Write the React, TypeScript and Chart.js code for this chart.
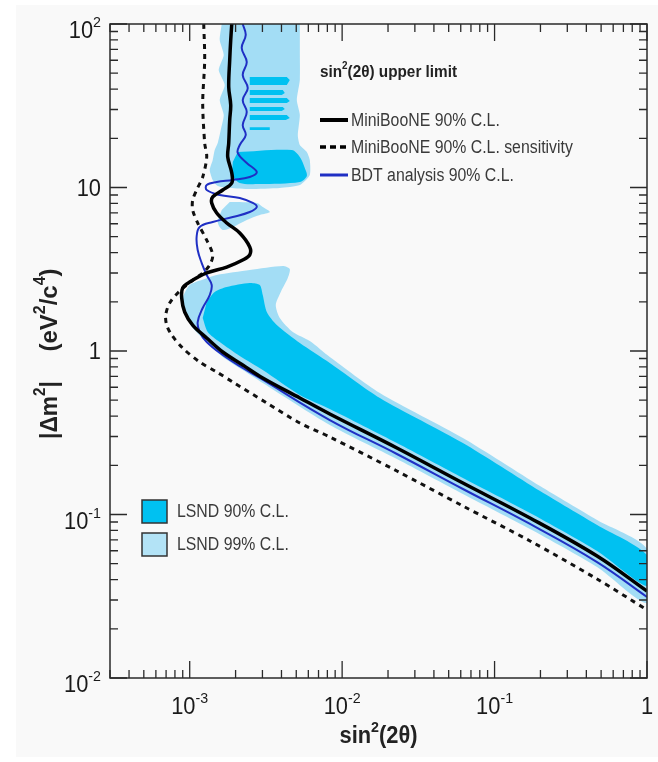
import React, { useEffect, useRef } from 'react';
import { Chart, registerables } from 'chart.js';

Chart.register(...registerables);

type P = [number, number];

// ---- axes ----
const xRange: [number, number] = [3e-4, 1];
const yRange: [number, number] = [1e-2, 1e2];
const xTicks = [1e-3, 1e-2, 1e-1, 1];
const xTickLabels: [string, string][] = [['10', '-3'], ['10', '-2'], ['10', '-1'], ['1', '']];
const yTicks = [1e-2, 1e-1, 1, 10, 100];
const yTickLabels: [string, string][] = [['10', '-2'], ['10', '-1'], ['1', ''], ['10', ''], ['10', '2']];

// ---- curves: [sin^2(2theta), |dm^2|] ----
const miniBooNE: P[] = [
  [1.888e-3, 100], [1.858e-3, 79.8], [1.83e-3, 60.2], [1.803e-3, 41.2], [1.858e-3, 31.96], [1.83e-3, 25.9],
  [1.803e-3, 18.7], [1.776e-3, 15.37], [1.888e-3, 12.27], [1.888e-3, 10.65], [1.647e-3, 9.65], [1.416e-3, 8.75],
  [1.394e-3, 8.04], [1.504e-3, 6.98], [1.75e-3, 6.07], [2.13e-3, 5.27], [2.477e-3, 4.33], [2.477e-3, 3.87],
  [2.228e-3, 3.6], [1.75e-3, 3.26], [1.293e-3, 3.0], [1.0e-3, 2.64], [8.99e-4, 2.43], [8.86e-4, 2.11],
  [9.27e-4, 1.732], [1.046e-3, 1.442], [1.293e-3, 1.2], [1.647e-3, 0.986], [2.228e-3, 0.821], [3.015e-3, 0.684],
  [5.278e-3, 0.516], [8.3e-3, 0.4118], [0.02287, 0.2551], [0.062, 0.1558], [0.1708, 0.0952], [0.4704, 0.0557], [1, 0.034],
];

const miniBooNESensitivity: P[] = [
  [1.236e-3, 100], [1.254e-3, 60.2], [1.217e-3, 32.9], [1.254e-3, 18.7], [1.293e-3, 15.37], [1.217e-3, 11.59],
  [1.11e-3, 9.65], [1.046e-3, 8.38], [1.046e-3, 7.29], [1.128e-3, 6.07], [1.293e-3, 4.77], [1.416e-3, 3.87],
  [1.353e-3, 3.357], [1.217e-3, 3.0], [1.031e-3, 2.68], [8.6e-4, 2.328], [7.39e-4, 1.966], [6.96e-4, 1.661],
  [7.06e-4, 1.442], [7.62e-4, 1.253], [8.99e-4, 1.043], [1.163e-3, 0.856], [1.504e-3, 0.744], [1.916e-3, 0.646],
  [3.204e-3, 0.481], [5.278e-3, 0.3627], [8.3e-3, 0.2979], [0.02287, 0.1845], [0.062, 0.1127], [0.1708, 0.0689],
  [0.4704, 0.0403], [1, 0.0261],
];

const bdt: P[] = [
  [2.228e-3, 100], [2.331e-3, 85.7], [2.194e-3, 71.3], [2.367e-3, 58.5], [2.228e-3, 48.7], [2.404e-3, 40.6],
  [2.228e-3, 34.3], [2.367e-3, 28.96], [2.228e-3, 24.1], [2.331e-3, 20.9], [2.13e-3, 18.2], [2.066e-3, 16.26],
  [2.367e-3, 14.13], [2.754e-3, 12.44], [2.477e-3, 11.59], [1.916e-3, 11.11], [1.504e-3, 10.8], [1.293e-3, 10.36],
  [1.293e-3, 9.65], [1.574e-3, 9.0], [2.13e-3, 8.63], [2.592e-3, 8.04], [2.754e-3, 7.6], [2.477e-3, 7.08],
  [1.916e-3, 6.6], [1.416e-3, 6.15], [1.163e-3, 5.73], [1.11e-3, 4.98], [1.128e-3, 4.15], [1.199e-3, 3.45],
  [1.293e-3, 2.916], [1.394e-3, 2.533], [1.353e-3, 2.2], [1.217e-3, 1.832], [1.128e-3, 1.504], [1.163e-3, 1.307],
  [1.293e-3, 1.135], [1.647e-3, 0.945], [2.228e-3, 0.787], [2.882e-3, 0.684], [8.3e-3, 0.3784], [0.02287, 0.2344],
  [0.062, 0.1432], [0.1708, 0.0875], [0.4704, 0.0512], [1, 0.0313],
];

// ---- LSND allowed regions (closed outlines) ----
const lsnd99High: P[] = [
  [1.622e-3, 100], [1.574e-3, 79.8], [1.672e-3, 64.6], [1.55e-3, 52.3], [1.697e-3, 42.4], [1.574e-3, 34.3],
  [1.672e-3, 27.8], [1.598e-3, 22.5], [1.527e-3, 18.7], [1.459e-3, 16.96], [1.416e-3, 14.73], [1.353e-3, 12.79],
  [1.416e-3, 11.11], [1.527e-3, 10.21], [1.83e-3, 9.93], [2.477e-3, 9.79], [3.899e-3, 9.93], [5.278e-3, 10.36],
  [6.137e-3, 11.93], [6.137e-3, 14.73], [5.865e-3, 16.49], [5.278e-3, 18.2], [5.12e-3, 20.9], [5.278e-3, 27.8],
  [5.043e-3, 34.3], [5.278e-3, 45.4], [5.278e-3, 69.3], [5.278e-3, 100],
];

const lsnd99Pocket: P[] = [
  [1.83e-3, 8.15], [2.754e-3, 8.04], [3.015e-3, 7.6], [3.352e-3, 7.08], [2.882e-3, 6.79], [2.367e-3, 6.33],
  [1.916e-3, 5.73], [1.647e-3, 5.5], [1.527e-3, 6.15], [1.622e-3, 7.29],
];

const lsnd99Low: P[] = [
  [9.13e-4, 1.911], [8.99e-4, 2.11], [1.0e-3, 2.533], [1.254e-3, 2.757], [1.504e-3, 2.916], [2.477e-3, 3.129],
  [4.08e-3, 3.311], [4.536e-3, 3.173], [4.401e-3, 2.796], [3.958e-3, 2.296], [3.67e-3, 1.911], [3.899e-3, 1.592],
  [4.747e-3, 1.307], [6.137e-3, 1.151], [8.3e-3, 0.919], [0.01768, 0.5535], [0.062, 0.2937], [0.1987, 0.1494],
  [0.4704, 0.0926], [1, 0.0615], [1, 0.0288], [0.4704, 0.0477], [0.1708, 0.0815], [0.062, 0.1335],
  [0.02287, 0.2185], [8.3e-3, 0.3527], [3.015e-3, 0.637], [2.228e-3, 0.765], [1.647e-3, 0.919], [1.293e-3, 1.135],
  [1.046e-3, 1.382], [9.41e-4, 1.661],
];

// horizontal 90% C.L. strips at high |dm^2|
const lsnd90Strips: P[] = [
  [2.477e-3, 47.4], [4.335e-3, 47.4], [4.536e-3, 45.4], [4.335e-3, 42.4], [2.477e-3, 42.4],
  [2.477e-3, 39.5], [4.08e-3, 39.5], [4.205e-3, 37.8], [4.018e-3, 36.8], [2.477e-3, 36.8],
  [2.477e-3, 35.3], [4.335e-3, 35.3], [4.536e-3, 33.8], [4.335e-3, 32.9], [2.477e-3, 32.9],
  [2.477e-3, 31.1], [4.08e-3, 31.1], [4.205e-3, 30.2], [4.018e-3, 29.4], [2.477e-3, 29.4],
  [2.477e-3, 27.8], [4.335e-3, 27.8], [4.536e-3, 26.6], [4.269e-3, 25.9], [2.477e-3, 25.9],
  [2.477e-3, 23.4], [3.352e-3, 23.4], [3.352e-3, 22.5], [2.477e-3, 22.5],
];

const lsnd90High: P[] = [
  [2.066e-3, 16.49], [4.675e-3, 16.96], [5.278e-3, 15.37], [5.69e-3, 13.16], [5.865e-3, 11.76], [5.278e-3, 10.8],
  [2.882e-3, 10.5], [2.13e-3, 10.65], [1.916e-3, 11.93], [1.916e-3, 14.32],
];

const lsnd90Low: P[] = [
  [1.293e-3, 1.994], [1.459e-3, 2.296], [1.75e-3, 2.462], [2.477e-3, 2.605], [2.882e-3, 2.533], [3.015e-3, 2.2],
  [3.204e-3, 1.732], [3.726e-3, 1.442], [5.278e-3, 1.119], [8.3e-3, 0.845], [0.01768, 0.516], [0.062, 0.2737],
  [0.1987, 0.1392], [0.4704, 0.0863], [1, 0.0565], [1, 0.0365], [0.4704, 0.0598], [0.1708, 0.1021],
  [0.062, 0.1672], [0.02287, 0.2737], [8.3e-3, 0.4418], [5.278e-3, 0.538], [3.015e-3, 0.765], [2.13e-3, 0.932],
  [1.574e-3, 1.135], [1.313e-3, 1.307], [1.217e-3, 1.592],
];

// ---- legend texts ----
const legendTitle = ['sin', '2', '(2θ) upper limit'];
const lineLegend = ['MiniBooNE 90% C.L.', 'MiniBooNE 90% C.L. sensitivity', 'BDT analysis 90% C.L.'];
const areaLegend = ['LSND 90% C.L.', 'LSND 99% C.L.'];

const DARK = '#00c1f1';
const LIGHT = '#a3ddf5';
const BLUE = '#1f2fc4';
const FONT = "'Liberation Sans', Arial, Helvetica, sans-serif";

type Part = { t: string; sup?: boolean };

function drawRich(
  ctx: CanvasRenderingContext2D, parts: Part[], x: number, y: number,
  size: number, supSize: number, rise: number, weight: string, align: string, sx: number, color: string
) {
  const widths = parts.map((p) => {
    ctx.font = `${weight} ${p.sup ? supSize : size}px ${FONT}`;
    return ctx.measureText(p.t).width * sx;
  });
  const total = widths.reduce((a, b) => a + b, 0);
  let cx = align === 'left' ? x : align === 'right' ? x - total : x - total / 2;
  ctx.fillStyle = color;
  ctx.textAlign = 'left';
  ctx.textBaseline = 'middle';
  parts.forEach((p, i) => {
    ctx.font = `${weight} ${p.sup ? supSize : size}px ${FONT}`;
    ctx.save();
    ctx.translate(cx, y - (p.sup ? rise : 0));
    ctx.scale(sx, 1);
    ctx.fillText(p.t, 0, 0);
    ctx.restore();
    cx += widths[i];
  });
}

const decorPlugin = {
  id: 'decor',
  beforeDraw(chart: any) {
    const ctx: CanvasRenderingContext2D = chart.ctx;
    ctx.save();
    ctx.fillStyle = '#ffffff';
    ctx.fillRect(0, 0, chart.width, chart.height);
    ctx.fillStyle = '#f9f9f9';
    ctx.fillRect(16, 5, chart.width - 16, chart.height - 10);
    ctx.restore();
  },
  afterDraw(chart: any) {
    const ctx: CanvasRenderingContext2D = chart.ctx;
    const xs = chart.scales.x;
    const ys = chart.scales.y;
    const { left, right, top, bottom } = chart.chartArea;
    ctx.save();
    ctx.strokeStyle = '#2a2a2a';
    ctx.lineWidth = 1.5;
    ctx.strokeRect(left, top, right - left, bottom - top);
    ctx.lineWidth = 1.3;
    ctx.beginPath();
    for (let d = -4; d <= 0; d++) {
      for (let k = 1; k <= 9; k++) {
        const v = k * Math.pow(10, d);
        if (v < xRange[0] * 0.999 || v > xRange[1] * 1.001) continue;
        const px = xs.getPixelForValue(v);
        const len = k === 1 ? 17 : 8;
        ctx.moveTo(px, bottom); ctx.lineTo(px, bottom - len);
        ctx.moveTo(px, top); ctx.lineTo(px, top + len);
      }
    }
    for (let d = -2; d <= 2; d++) {
      for (let k = 1; k <= 9; k++) {
        const v = k * Math.pow(10, d);
        if (v < yRange[0] * 0.999 || v > yRange[1] * 1.001) continue;
        const py = ys.getPixelForValue(v);
        const len = k === 1 ? 17 : 8;
        ctx.moveTo(left, py); ctx.lineTo(left + len, py);
        ctx.moveTo(right, py); ctx.lineTo(right - len, py);
      }
    }
    ctx.stroke();

    xTicks.forEach((v, i) => {
      const [b, s] = xTickLabels[i];
      const parts: Part[] = s ? [{ t: b }, { t: s, sup: true }] : [{ t: b }];
      drawRich(ctx, parts, xs.getPixelForValue(v), bottom + 30, 23, 15, 9, 'normal', 'center', 0.95, '#1a1a1a');
    });
    yTicks.forEach((v, i) => {
      const [b, s] = yTickLabels[i];
      const py = ys.getPixelForValue(v);
      if (s) {
        drawRich(ctx, [{ t: b }, { t: s, sup: true }], left - 9, py + 8, 23, 15, 9, 'normal', 'right', 0.95, '#1a1a1a');
      } else {
        drawRich(ctx, [{ t: b }], left - 9, py + 2, 23, 15, 9, 'normal', 'right', 0.95, '#1a1a1a');
      }
    });

    drawRich(ctx, [{ t: 'sin' }, { t: '2', sup: true }, { t: '(2θ)' }], (left + right) / 2, bottom + 59,
      23, 15, 9, 'bold', 'center', 0.95, '#222');
    ctx.save();
    ctx.translate(50, 410);
    ctx.rotate(-Math.PI / 2);
    drawRich(ctx, [{ t: '|Δm' }, { t: '2', sup: true }, { t: '|' }], 0, 0, 24, 16, 9, 'bold', 'center', 0.95, '#222');
    ctx.restore();
    ctx.save();
    ctx.translate(50, 310);
    ctx.rotate(-Math.PI / 2);
    drawRich(ctx, [{ t: '(eV' }, { t: '2', sup: true }, { t: '/c' }, { t: '4', sup: true }, { t: ')' }], 0, 0,
      24, 16, 9, 'bold', 'center', 1.0, '#222');
    ctx.restore();

    drawRich(ctx, [{ t: legendTitle[0] }, { t: legendTitle[1], sup: true }, { t: legendTitle[2] }], 320, 72,
      17, 11, 6, 'bold', 'left', 0.9, '#222');
    const ly = [120, 147, 175];
    ctx.lineCap = 'butt';
    ctx.strokeStyle = '#000';
    ctx.lineWidth = 4;
    ctx.beginPath(); ctx.moveTo(320, ly[0]); ctx.lineTo(348, ly[0]); ctx.stroke();
    ctx.lineWidth = 3.5;
    ctx.setLineDash([6, 4]);
    ctx.beginPath(); ctx.moveTo(320, ly[1]); ctx.lineTo(349, ly[1]); ctx.stroke();
    ctx.setLineDash([]);
    ctx.strokeStyle = BLUE;
    ctx.lineWidth = 3;
    ctx.beginPath(); ctx.moveTo(320, ly[2]); ctx.lineTo(348, ly[2]); ctx.stroke();
    lineLegend.forEach((t, i) => {
      drawRich(ctx, [{ t }], 351, ly[i] + 1, 18, 12, 6, 'normal', 'left', 0.88, '#3a3a3a');
    });

    const boxes = [{ y: 500, c: DARK }, { y: 533, c: '#b3e3f6' }];
    boxes.forEach((b, i) => {
      ctx.fillStyle = b.c;
      ctx.fillRect(142, b.y, 25, 23);
      ctx.strokeStyle = '#333';
      ctx.lineWidth = 1.5;
      ctx.strokeRect(142, b.y, 25, 23);
      drawRich(ctx, [{ t: areaLegend[i] }], 177, b.y + 12, 18, 12, 6, 'normal', 'left', 0.88, '#3a3a3a');
    });
    ctx.restore();
  },
};

function toXY(arr: P[]) {
  return arr.map(([x, y]) => ({ x, y }));
}

export default function App() {
  const ref = useRef<HTMLCanvasElement | null>(null);
  useEffect(() => {
    document.body.style.margin = '0';
    const canvas = ref.current;
    if (!canvas) return;
    const area = (data: P[], color: string, order: number, tension: number) => ({
      data: toXY(data), showLine: true, pointRadius: 0, borderWidth: 0, borderColor: 'rgba(0,0,0,0)',
      backgroundColor: color, fill: 'shape', order, tension,
    });
    const chart = new Chart(canvas, {
      type: 'scatter',
      data: {
        datasets: [
          area(lsnd99High, LIGHT, 20, 0.2),
          area(lsnd99Pocket, LIGHT, 19, 0.3),
          area(lsnd99Low, LIGHT, 18, 0.25),
          area(lsnd90Strips, DARK, 17, 0),
          area(lsnd90High, DARK, 16, 0.3),
          area(lsnd90Low, DARK, 15, 0.25),
          {
            data: toXY(miniBooNESensitivity), showLine: true, pointRadius: 0, borderColor: '#111',
            borderWidth: 3, borderDash: [5, 5], fill: false, order: 3, tension: 0.3,
          },
          {
            data: toXY(bdt), showLine: true, pointRadius: 0, borderColor: BLUE,
            borderWidth: 2, fill: false, order: 2, tension: 0.4,
          },
          {
            data: toXY(miniBooNE), showLine: true, pointRadius: 0, borderColor: '#000',
            borderWidth: 3.5, fill: false, order: 1, tension: 0.35,
          },
        ] as any,
      },
      options: {
        responsive: false,
        animation: false,
        devicePixelRatio: 1,
        events: [],
        layout: { padding: { left: 110, right: 11, top: 24, bottom: 84 } },
        scales: {
          x: { type: 'logarithmic', min: xRange[0], max: xRange[1], display: false },
          y: { type: 'logarithmic', min: yRange[0], max: yRange[1], display: false },
        },
        plugins: { legend: { display: false }, tooltip: { enabled: false } },
      },
      plugins: [decorPlugin],
    });
    return () => chart.destroy();
  }, []);
  return <canvas ref={ref} width={658} height={762} style={{ display: 'block' }} />;
}
